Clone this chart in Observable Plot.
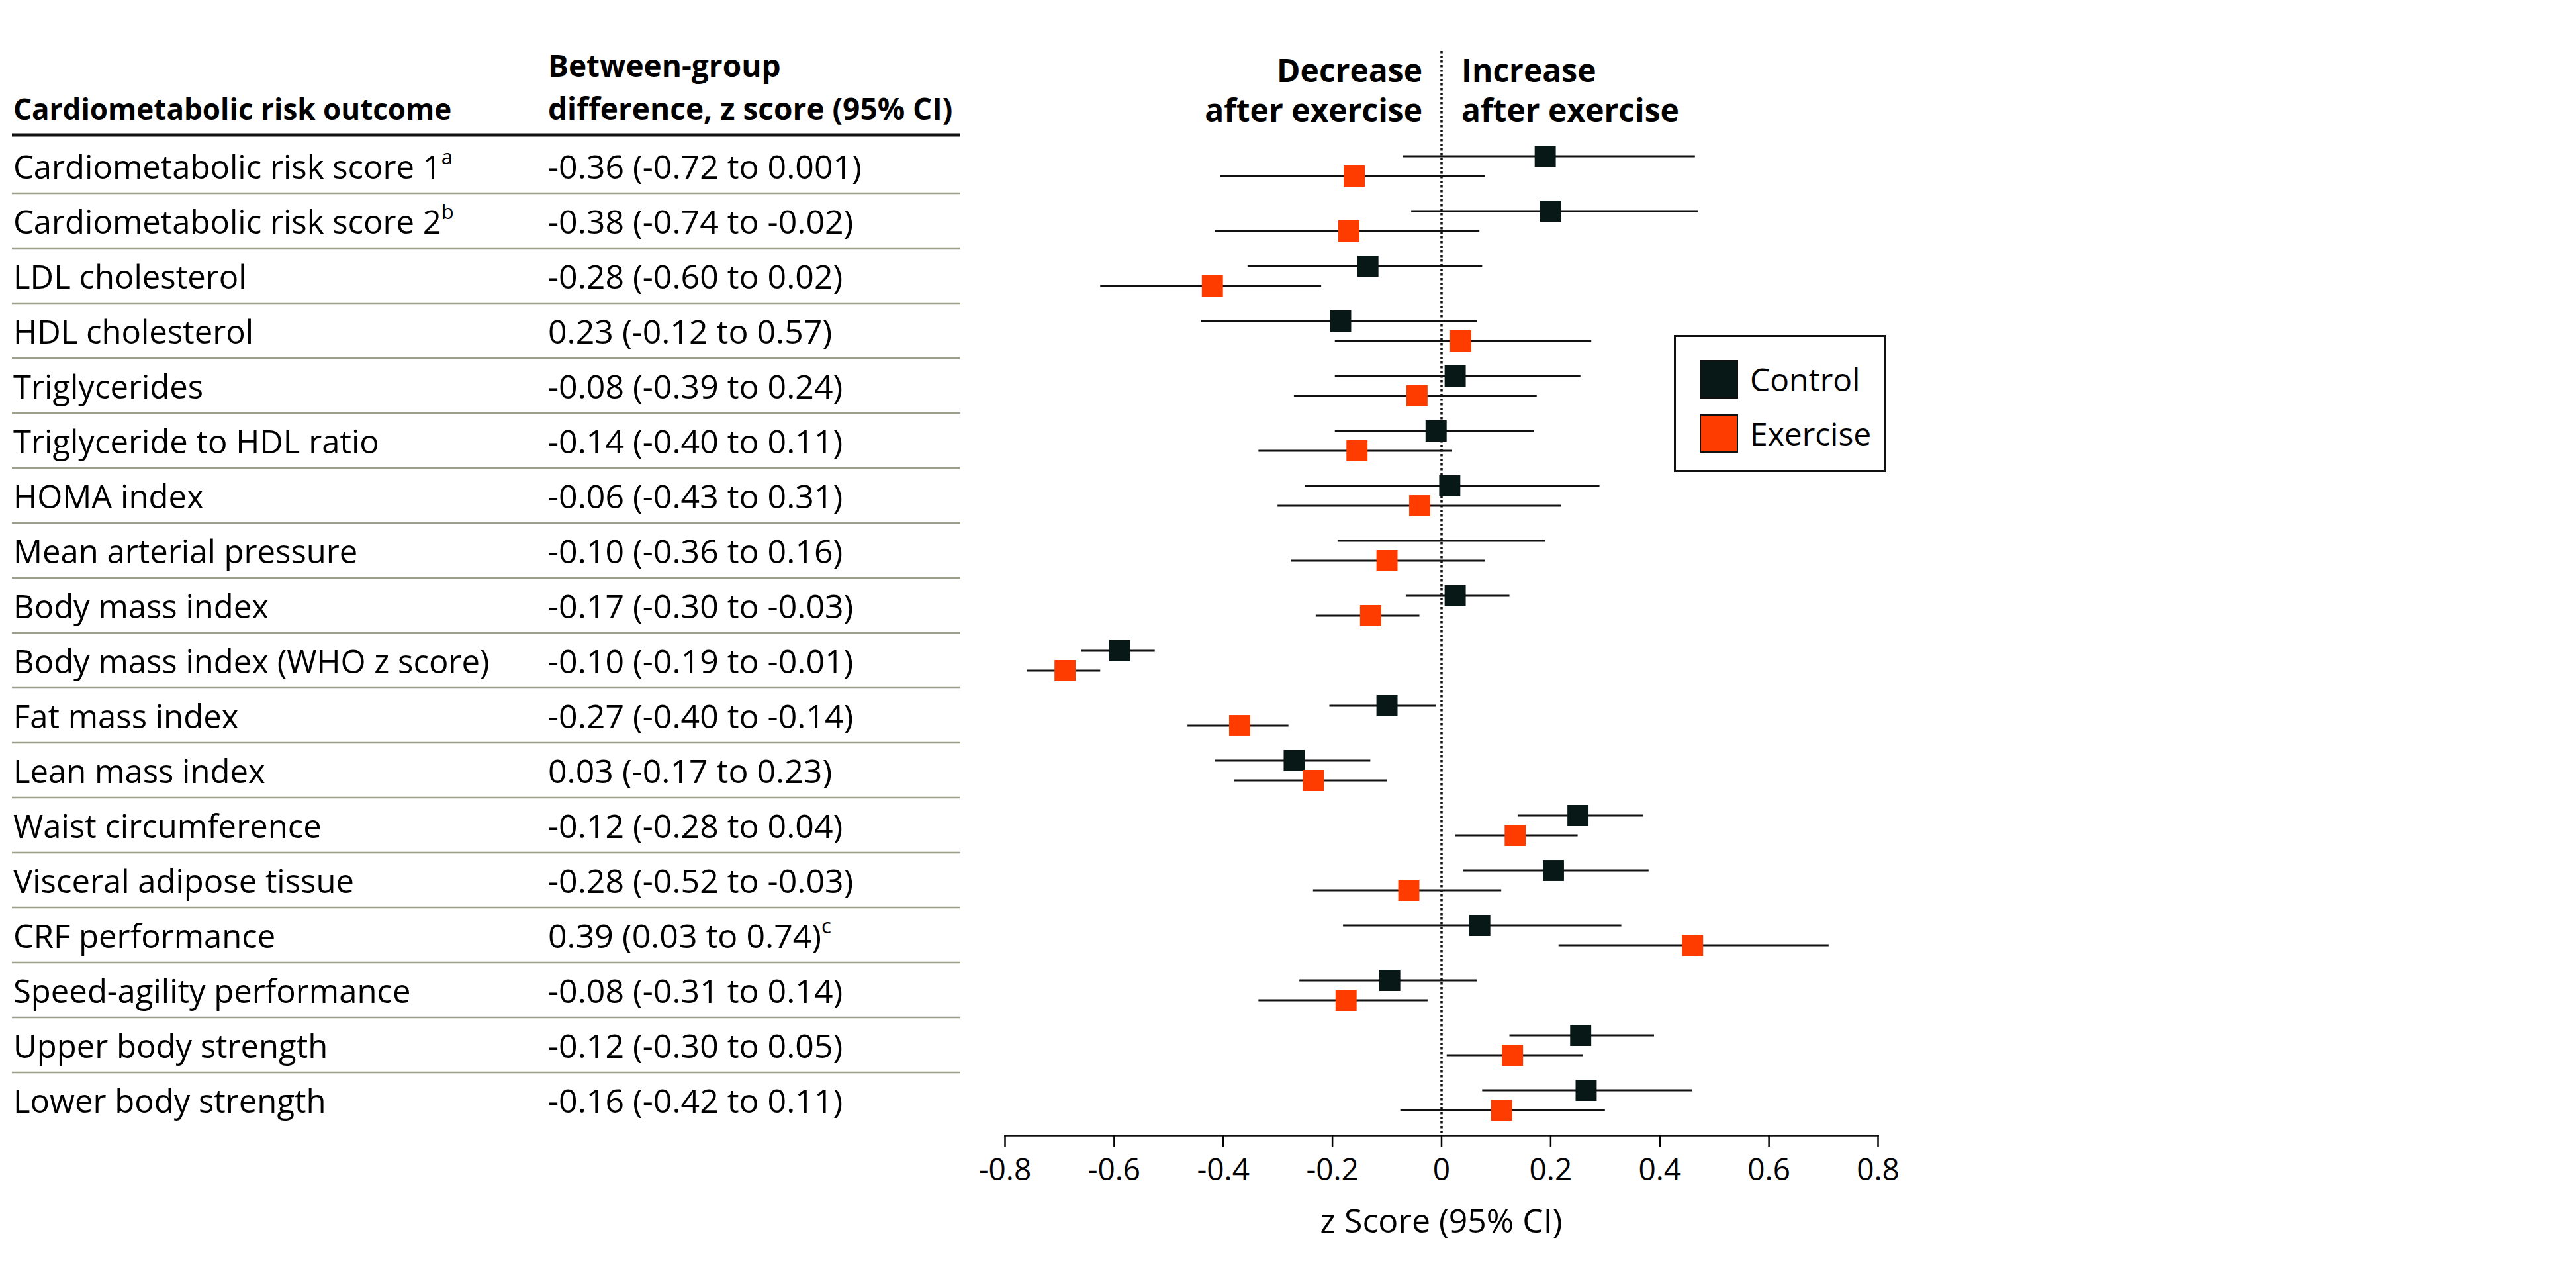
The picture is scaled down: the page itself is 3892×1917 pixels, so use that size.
<!DOCTYPE html>
<html>
<head>
<meta charset="utf-8">
<script src="https://cdn.jsdelivr.net/npm/d3@7"></script>
<script src="https://cdn.jsdelivr.net/npm/@observablehq/plot@0.6"></script>
<style>
  body { margin: 0; background: #fff; }
  #wrap { position: relative; width: 3892px; height: 1917px; font-family: "Open Sans", sans-serif; color: #000; }
  #wrap svg { position: absolute; left: 0; top: 0; }
  .legend { position: absolute; left: 2529px; top: 506px; width: 314px; height: 201px; border: 3px solid #111; background: #fff; }
  .legend .item { position: absolute; left: 36px; display: flex; align-items: center; font-size: 48px; }
  .legend .sw { width: 54px; height: 54px; border: 2px solid #111; margin-right: 18px; }
</style>
</head>
<body>
<div id="wrap"></div>
<script>
// ---------- data ----------
const outcomes = [
  "Cardiometabolic risk score 1", "Cardiometabolic risk score 2", "LDL cholesterol", "HDL cholesterol",
  "Triglycerides", "Triglyceride to HDL ratio", "HOMA index", "Mean arterial pressure", "Body mass index",
  "Body mass index (WHO z score)", "Fat mass index", "Lean mass index", "Waist circumference",
  "Visceral adipose tissue", "CRF performance", "Speed-agility performance", "Upper body strength", "Lower body strength"
];
const outcomeNotes = ["a", "b", "", "", "", "", "", "", "", "", "", "", "", "", "", "", "", ""];
const differences = [
  "-0.36 (-0.72 to 0.001)", "-0.38 (-0.74 to -0.02)", "-0.28 (-0.60 to 0.02)", "0.23 (-0.12 to 0.57)",
  "-0.08 (-0.39 to 0.24)", "-0.14 (-0.40 to 0.11)", "-0.06 (-0.43 to 0.31)", "-0.10 (-0.36 to 0.16)",
  "-0.17 (-0.30 to -0.03)", "-0.10 (-0.19 to -0.01)", "-0.27 (-0.40 to -0.14)", "0.03 (-0.17 to 0.23)",
  "-0.12 (-0.28 to 0.04)", "-0.28 (-0.52 to -0.03)", "0.39 (0.03 to 0.74)", "-0.08 (-0.31 to 0.14)",
  "-0.12 (-0.30 to 0.05)", "-0.16 (-0.42 to 0.11)"
];
const differenceNotes = ["", "", "", "", "", "", "", "", "", "", "", "", "", "", "c", "", "", ""];

const controlEst = [0.19, 0.20, -0.135, -0.185, 0.025, -0.01, 0.015, null, 0.025, -0.59, -0.10, -0.27, 0.25, 0.205, 0.07, -0.095, 0.255, 0.265];
const controlLo  = [-0.07, -0.055, -0.355, -0.44, -0.195, -0.195, -0.25, -0.19, -0.065, -0.66, -0.205, -0.415, 0.14, 0.04, -0.18, -0.26, 0.125, 0.075];
const controlHi  = [0.465, 0.47, 0.075, 0.065, 0.255, 0.17, 0.29, 0.19, 0.125, -0.525, -0.01, -0.13, 0.37, 0.38, 0.33, 0.065, 0.39, 0.46];
const exerciseEst = [-0.16, -0.17, -0.42, 0.035, -0.045, -0.155, -0.04, -0.10, -0.13, -0.69, -0.37, -0.235, 0.135, -0.06, 0.46, -0.175, 0.13, 0.11];
const exerciseLo  = [-0.405, -0.415, -0.625, -0.195, -0.27, -0.335, -0.30, -0.275, -0.23, -0.76, -0.465, -0.38, 0.025, -0.235, 0.215, -0.335, 0.01, -0.075];
const exerciseHi  = [0.08, 0.07, -0.22, 0.275, 0.175, 0.02, 0.22, 0.08, -0.04, -0.625, -0.28, -0.10, 0.25, 0.11, 0.71, -0.025, 0.26, 0.30];

const xTicks = [-0.8, -0.6, -0.4, -0.2, 0, 0.2, 0.4, 0.6, 0.8];
const groups = ["Control", "Exercise"];
const groupColors = ["#071816", "#ff3c00"];
const directionLabels = [
  {x: 0, label: "Decrease\nafter exercise", side: "left"},
  {x: 0, label: "Increase\nafter exercise", side: "right"}
];
const tableHeaders = ["Cardiometabolic risk outcome", "Between-group\ndifference, z score (95% CI)"];
const axisLabel = "z Score (95% CI)";

// ---------- build rows ----------
const controlRows = outcomes.map((o, i) => ({outcome: o, est: controlEst[i], lo: controlLo[i], hi: controlHi[i]}));
const exerciseRows = outcomes.map((o, i) => ({outcome: o, est: exerciseEst[i], lo: exerciseLo[i], hi: exerciseHi[i]}));

const OFF = 15;
const chart = Plot.plot({
  width: 3892,
  height: 1917,
  marginLeft: 1518,
  marginRight: 1055,
  marginTop: 204,
  marginBottom: 202,
  style: {fontFamily: "Open Sans", fontSize: "46px", color: "#000", background: "transparent", overflow: "visible"},
  x: {domain: [-0.8, 0.8], label: null},
  y: {type: "band", domain: outcomes, axis: null, padding: 0, insetBottom: 8},
  marks: [
    Plot.ruleX([0], {stroke: "#111", strokeWidth: 3.5, strokeDasharray: "3.5,3.5", insetTop: -127}),
    Plot.frame({anchor: "bottom", stroke: "#111", strokeWidth: 2.5}),
    Plot.axisX({ticks: xTicks, tickFormat: d => String(d), tickSize: 17, tickPadding: 18, fontSize: 46, strokeWidth: 2.5, label: null}),
    Plot.ruleY(controlRows, {y: "outcome", x1: "lo", x2: "hi", dy: -OFF, stroke: "#111", strokeWidth: 3.2}),
    Plot.ruleY(exerciseRows, {y: "outcome", x1: "lo", x2: "hi", dy: OFF, stroke: "#111", strokeWidth: 3.2}),
    Plot.dot(controlRows.filter(d => d.est != null), {x: "est", y: "outcome", dy: -OFF, symbol: "square", r: 18, fill: groupColors[0]}),
    Plot.dot(exerciseRows, {x: "est", y: "outcome", dy: OFF, symbol: "square", r: 18, fill: groupColors[1]}),
    Plot.text(directionLabels.filter(d => d.side === "left"), {x: "x", text: "label", frameAnchor: "top", dx: -29, dy: -70, textAnchor: "end", lineAnchor: "middle", lineHeight: 1.25, fontWeight: "bold", fontSize: 48}),
    Plot.text(directionLabels.filter(d => d.side === "right"), {x: "x", text: "label", frameAnchor: "top", dx: 30, dy: -70, textAnchor: "start", lineAnchor: "middle", lineHeight: 1.25, fontWeight: "bold", fontSize: 48})
  ]
});

document.getElementById("wrap").appendChild(chart);

// ---------- table and axis label, positioned with the plot's scales ----------
const svgSel = d3.select(chart);
const ys = chart.scale("y");
const xs = chart.scale("x");
const band = ys.bandwidth;
const yCenter = d => ys.apply(d) + band / 2;
const tableLeft = 20, valueLeft = 828, tableRight = 1451;
const topY = ys.range[0];

const g = svgSel.append("g").attr("font-family", "Open Sans").attr("fill", "#000").attr("text-anchor", "start");

// headers
const [h1, h2] = tableHeaders;
g.append("text").attr("x", tableLeft).attr("y", 181).attr("font-size", 44).attr("font-weight", "bold").text(h1);
h2.split("\n").forEach((line, k) => {
  g.append("text").attr("x", valueLeft).attr("y", 116 + k * 65).attr("font-size", 46).attr("font-weight", "bold").text(line);
});
g.append("line").attr("x1", 18).attr("x2", tableRight).attr("y1", topY).attr("y2", topY)
  .attr("stroke", "#111").attr("stroke-width", 5);

// separators
outcomes.slice(0, -1).forEach(o => {
  const y = ys.apply(o) + ys.step;
  g.append("line").attr("x1", 18).attr("x2", tableRight).attr("y1", y).attr("y2", y)
    .attr("stroke", "#9ca08a").attr("stroke-width", 2.5);
});

// rows
outcomes.forEach((o, i) => {
  const y = yCenter(o) + 2;
  const t1 = g.append("text").attr("x", tableLeft).attr("y", y).attr("dy", "0.35em").attr("font-size", 49);
  t1.append("tspan").text(o);
  if (outcomeNotes[i]) t1.append("tspan").attr("font-size", 31).attr("dy", "-0.7em").text(outcomeNotes[i]);
  const t2 = g.append("text").attr("x", valueLeft).attr("y", y).attr("dy", "0.35em").attr("font-size", 50);
  t2.append("tspan").text(differences[i]);
  if (differenceNotes[i]) t2.append("tspan").attr("font-size", 31).attr("dy", "-0.7em").text(differenceNotes[i]);
});

// axis label
g.append("text").attr("x", xs.apply(0)).attr("y", 1862).attr("text-anchor", "middle").attr("font-size", 50).text(axisLabel);

// ---------- legend ----------
const legend = d3.select("#wrap").append("div").attr("class", "legend");
groups.forEach((name, k) => {
  const item = legend.append("div").attr("class", "item").style("top", (31 + k * 82) + "px");
  item.append("div").attr("class", "sw").style("background", groupColors[k]);
  item.append("span").text(name);
});
</script>
</body>
</html>
